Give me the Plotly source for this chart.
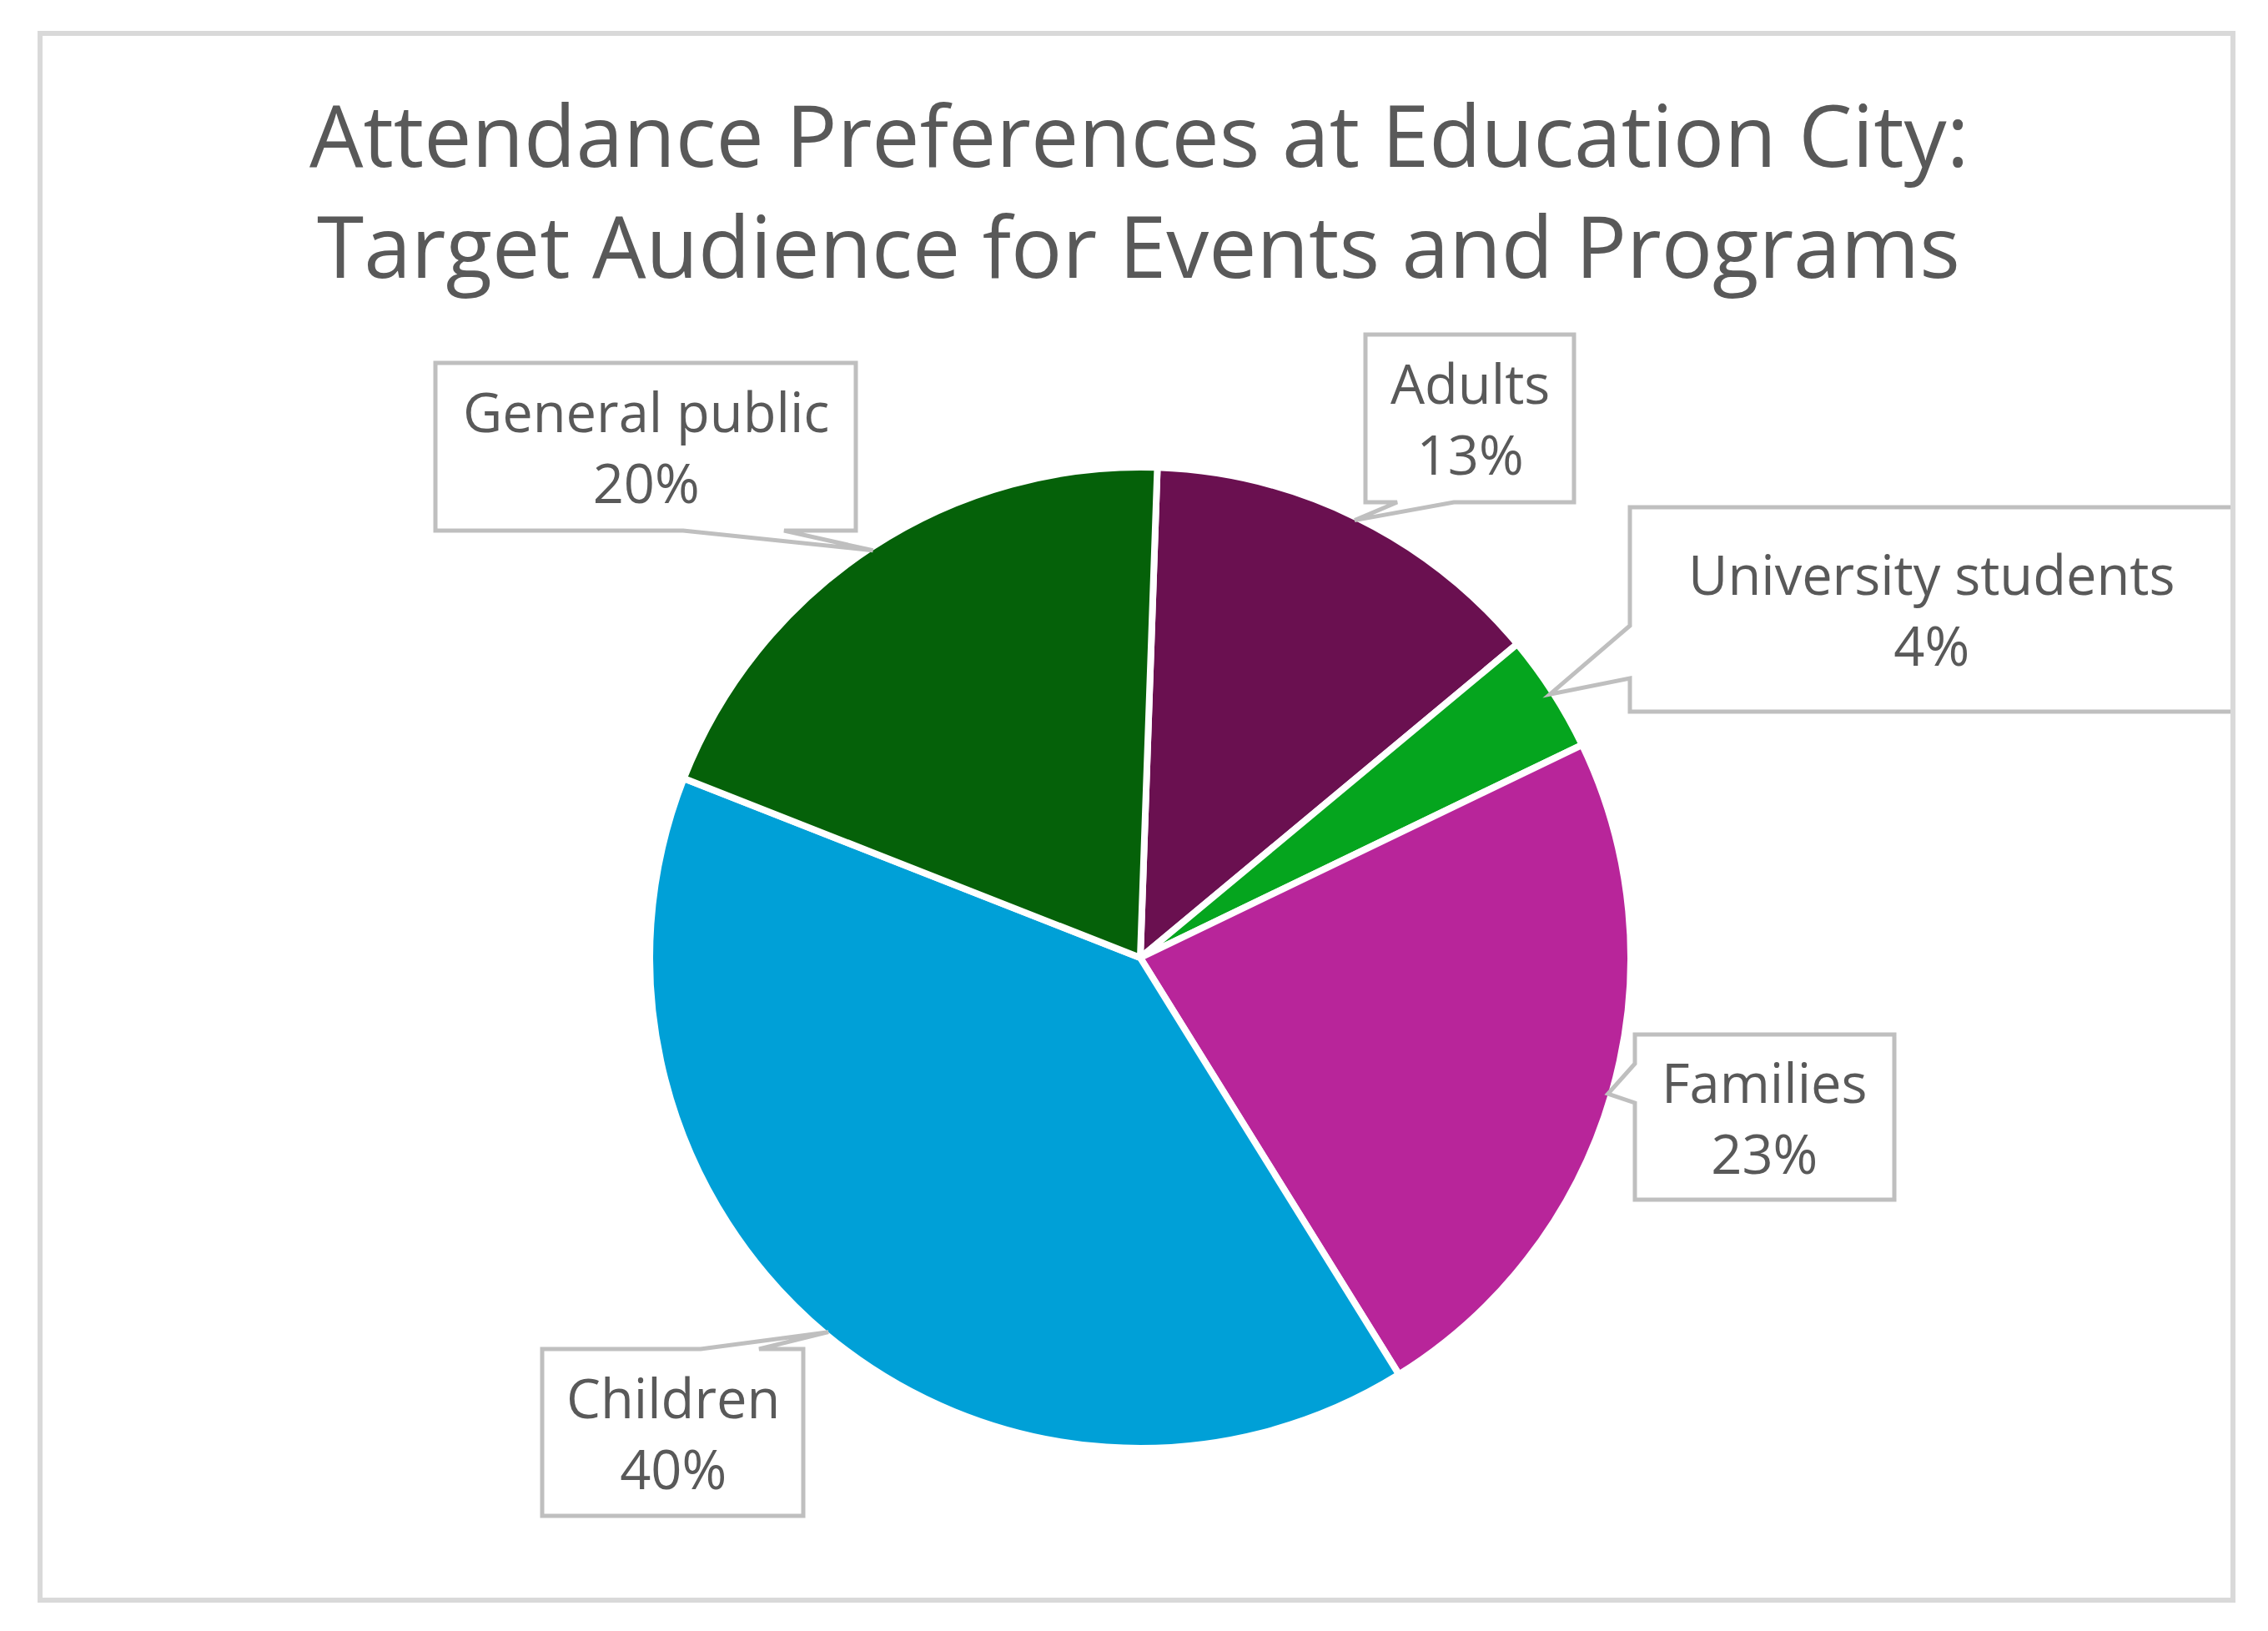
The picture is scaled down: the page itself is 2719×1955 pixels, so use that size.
import math
import plotly.graph_objects as go

categories = ["Adults", "University students", "Families", "Children", "General public"]
values = [13.4, 3.9, 23.3, 39.8, 19.6]
colors = ["#6A1050", "#05A51E", "#B8259A", "#00A0D7", "#056109"]
title_lines = ["Attendance Preferences at Education City:", "Target Audience for Events and Programs"]

# page (screenshot) size and the browser's default body margin
PAGE_W, PAGE_H = 2719, 1955
OFF = 8
W, H = PAGE_W - 2 * OFF, PAGE_H - 2 * OFF

CX, CY, R = 1367, 1148, 584
ROT = 2.0
BORDER_W = 8
RD = R + BORDER_W / 2
FONT = "Open Sans"
TXT = "#595959"
BOXC = "#BFBFBF"

# callout boxes in page px: x0, y0, x1, y1, edge with pointer, base a, base b
boxes = {
    "General public": (522, 435, 1026, 636, "bottom", 819, 940),
    "Adults": (1637, 401, 1887, 602, "bottom", 1675, 1743),
    "University students": (1954, 608, 2677, 853, "left", 750, 813),
    "Families": (1960, 1240, 2271, 1438, "left", 1275, 1322),
    "Children": (650, 1617, 963, 1817, "top", 840, 910),
}
title_centers = [(1365, 161), (1365, 293)]


def px(x):
    return (x - OFF) / W


def py(y):
    return 1 - (y - OFF) / H


def pt(x, y):
    return f"{px(x):.5f},{py(y):.5f}"


total = sum(values)
tips = {}
cum = 0.0
for c, v in zip(categories, values):
    mid = math.radians(ROT + (cum + v / 2) / total * 360)
    tips[c] = (CX + R * math.sin(mid), CY - R * math.cos(mid))
    cum += v

fig = go.Figure(
    go.Pie(
        labels=categories,
        values=values,
        sort=False,
        direction="clockwise",
        rotation=ROT,
        marker=dict(colors=colors, line=dict(color="white", width=BORDER_W)),
        textinfo="none",
        hoverinfo="label+percent",
        domain=dict(x=[px(CX - RD), px(CX + RD)], y=[py(CY + RD), py(CY - RD)]),
        showlegend=False,
    )
)

shapes = []
annotations = []
for c, v in zip(categories, values):
    x0, y0, x1, y1, edge, a, b = boxes[c]
    tx, ty = tips[c]
    if edge == "top":
        pts = [(x0, y0), (a, y0), (tx, ty), (b, y0), (x1, y0), (x1, y1), (x0, y1)]
    elif edge == "bottom":
        pts = [(x0, y0), (x1, y0), (x1, y1), (b, y1), (tx, ty), (a, y1), (x0, y1)]
    else:  # left
        pts = [(x0, y0), (x1, y0), (x1, y1), (x0, y1), (x0, b), (tx, ty), (x0, a)]
    path = "M " + " L ".join(pt(x, y) for x, y in pts) + " Z"
    shapes.append(dict(type="path", path=path, xref="paper", yref="paper",
                       fillcolor="white", line=dict(color=BOXC, width=5), layer="above"))
    pct = round(v / total * 100)
    annotations.append(dict(
        x=px((x0 + x1) / 2), y=py((y0 + y1) / 2), xref="paper", yref="paper",
        xanchor="center", yanchor="middle", showarrow=False,
        text=f"{c}<br>{pct}%", font=dict(family=FONT, size=65, color=TXT),
    ))

for line, (tx, ty) in zip(title_lines, title_centers):
    annotations.append(dict(
        x=px(tx), y=py(ty), xref="paper", yref="paper",
        xanchor="center", yanchor="middle", showarrow=False,
        text=line, font=dict(family=FONT, size=102, color=TXT),
    ))

# outer chart frame
shapes.append(dict(type="rect", xref="paper", yref="paper",
                   x0=px(48), x1=px(2677), y0=py(1918), y1=py(40),
                   line=dict(color="#D9D9D9", width=6), fillcolor="rgba(0,0,0,0)", layer="above"))

fig.update_layout(
    width=W, height=H,
    margin=dict(l=0, r=0, t=0, b=0),
    paper_bgcolor="white", plot_bgcolor="white",
    shapes=shapes,
    annotations=annotations,
)

fig.write_html("out.html")
